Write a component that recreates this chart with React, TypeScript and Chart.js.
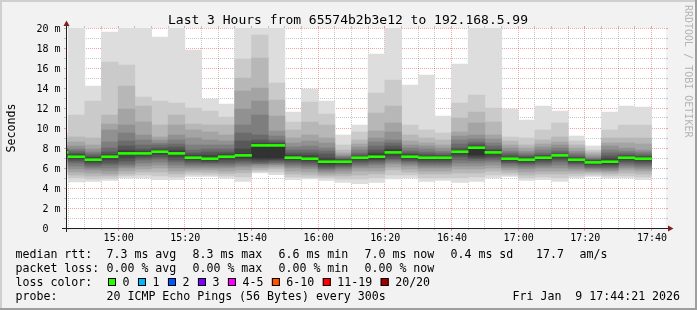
import React, { useEffect, useRef } from "react";
import { Chart, registerables } from "chart.js";

Chart.register(...registerables);

// 5-minute slots (start time of each consolidated row)
const slotStart = [
  "14:40", "14:45", "14:50", "14:55", "15:00", "15:05", "15:10", "15:15", "15:20",
  "15:25", "15:30", "15:35", "15:40", "15:45", "15:50", "15:55", "16:00", "16:05",
  "16:10", "16:15", "16:20", "16:25", "16:30", "16:35", "16:40", "16:45", "16:50",
  "16:55", "17:00", "17:05", "17:10", "17:15", "17:20", "17:25", "17:30", "17:35",
];

// median RTT (ms) per slot
const medianRtt = [
  7.56, 7.13, 6.83, 7.13, 7.46, 7.46, 7.63, 7.46, 7.03, 6.93, 7.13, 7.26, 8.26, 8.26,
  7.03, 6.93, 6.63, 6.63, 7.03, 7.13, 7.56, 7.13, 7.03, 7.03, 7.63, 8.03, 7.56, 6.93,
  6.83, 7.03, 7.26, 6.83, 6.56, 6.63, 7.03, 6.93,
];

// sorted ping RTTs (ms) per slot: ping01 = fastest ... ping20 = slowest
const ping20 = [9.5, 22, 14.2, 19.6, 22, 22, 19.1, 22, 17.8, 12.9, 12.4, 20.0, 22, 22, 11.6, 13.9, 12.7, 9.3, 10.3, 17.4, 22, 14.3, 15.3, 11.2, 16.4, 22, 22, 11.9, 10.8, 12.2, 11.7, 9.2, 8.2, 11.6, 12.2, 12.1];
const ping19 = [9.0, 11.3, 12.7, 16.6, 16.3, 13.1, 12.7, 12.5, 12.0, 11.7, 11.1, 16.9, 19.3, 14.5, 10.6, 12.6, 11.4, 8.3, 9.6, 13.5, 14.8, 10.3, 9.8, 9.5, 12.5, 13.3, 12.0, 9.1, 9.0, 9.8, 10.5, 8.7, 7.8, 9.8, 10.3, 10.3];
const ping18 = [8.6, 9.1, 9.0, 11.3, 14.2, 12.2, 10.3, 11.3, 10.4, 10.3, 10.3, 15.0, 17.0, 12.8, 9.8, 10.6, 10.3, 7.8, 8.8, 11.5, 12.2, 9.3, 9.0, 8.8, 11.0, 11.6, 10.6, 8.7, 8.3, 8.8, 9.1, 8.3, 7.6, 9.0, 9.0, 9.0];
const ping17 = [8.3, 8.6, 8.3, 10.4, 11.9, 10.6, 9.1, 10.3, 9.8, 9.6, 9.3, 13.7, 14.0, 11.2, 9.0, 9.3, 9.0, 7.5, 8.4, 9.7, 10.5, 8.7, 8.5, 8.3, 9.6, 10.5, 9.3, 8.3, 8.0, 8.4, 8.6, 8.0, 7.4, 8.5, 8.5, 8.4];
const ping16 = [8.1, 8.2, 7.9, 9.8, 10.3, 9.3, 8.8, 9.3, 9.0, 8.8, 8.7, 11.9, 12.7, 9.7, 8.5, 8.7, 8.5, 7.3, 8.1, 9.0, 9.6, 8.3, 8.2, 8.0, 9.2, 9.3, 8.9, 8.0, 7.7, 8.1, 8.3, 7.7, 7.2, 8.2, 8.0, 7.8];
const ping15 = [7.95, 7.9, 7.6, 8.6, 9.5, 8.8, 8.5, 8.8, 8.3, 8.3, 8.3, 10.3, 11.3, 9.2, 8.1, 8.2, 8.0, 7.15, 7.8, 8.6, 8.8, 8.0, 7.9, 7.7, 8.8, 8.9, 8.5, 7.7, 7.5, 7.8, 8.0, 7.5, 7.0, 7.8, 7.7, 7.6];
const ping14 = [7.85, 7.7, 7.4, 8.0, 8.7, 8.3, 8.3, 8.4, 7.8, 7.9, 7.9, 9.5, 9.3, 8.8, 7.8, 7.8, 7.7, 7.0, 7.5, 8.2, 8.5, 7.7, 7.6, 7.5, 8.4, 8.6, 8.2, 7.5, 7.3, 7.5, 7.7, 7.3, 6.9, 7.5, 7.5, 7.4];
const ping13 = [7.75, 7.5, 7.2, 7.6, 8.2, 7.9, 8.0, 8.1, 7.5, 7.6, 7.6, 8.7, 8.8, 8.6, 7.5, 7.5, 7.4, 6.9, 7.3, 7.8, 8.2, 7.5, 7.4, 7.3, 8.0, 8.4, 7.9, 7.3, 7.15, 7.3, 7.5, 7.1, 6.8, 7.2, 7.3, 7.2];
const ping12 = [7.65, 7.35, 7.05, 7.35, 7.8, 7.7, 7.8, 7.8, 7.3, 7.3, 7.4, 7.9, 8.5, 8.45, 7.3, 7.25, 7.0, 6.8, 7.15, 7.5, 7.9, 7.35, 7.2, 7.2, 7.8, 8.2, 7.75, 7.1, 7.0, 7.2, 7.35, 7.0, 6.7, 6.95, 7.2, 7.1];
const ping11 = [7.6, 7.25, 6.9, 7.2, 7.6, 7.55, 7.7, 7.6, 7.1, 7.05, 7.2, 7.4, 8.35, 8.35, 7.1, 7.05, 6.75, 6.7, 7.1, 7.3, 7.7, 7.2, 7.1, 7.1, 7.7, 8.1, 7.65, 7.0, 6.9, 7.1, 7.3, 6.9, 6.6, 6.75, 7.1, 7.0];
const ping10 = [7.5, 7.1, 6.75, 7.05, 7.35, 7.4, 7.55, 7.35, 6.95, 6.85, 7.05, 7.1, 7.0, 7.0, 6.95, 6.85, 6.5, 6.55, 6.95, 7.0, 7.45, 7.05, 6.95, 6.95, 7.55, 7.3, 7.45, 6.85, 6.75, 6.95, 7.2, 6.75, 6.5, 6.5, 6.95, 6.85];
const ping09 = [7.4, 6.9, 6.6, 6.8, 7.0, 7.2, 7.35, 7.1, 6.8, 6.7, 6.85, 6.9, 6.8, 6.85, 6.8, 6.7, 6.3, 6.4, 6.8, 6.85, 7.2, 6.9, 6.8, 6.8, 7.3, 7.1, 7.2, 6.7, 6.6, 6.8, 7.0, 6.6, 6.35, 6.35, 6.8, 6.7];
const ping08 = [7.3, 6.7, 6.4, 6.5, 6.7, 7.0, 7.1, 6.8, 6.6, 6.55, 6.6, 6.7, 6.6, 6.7, 6.6, 6.5, 6.1, 6.25, 6.6, 6.7, 6.95, 6.75, 6.6, 6.6, 7.1, 6.95, 7.0, 6.55, 6.45, 6.6, 6.8, 6.45, 6.2, 6.2, 6.6, 6.5];
const ping07 = [7.2, 6.5, 6.2, 6.3, 6.4, 6.8, 6.9, 6.6, 6.4, 6.4, 6.4, 6.5, 6.45, 6.55, 6.4, 6.3, 5.95, 6.1, 6.4, 6.5, 6.8, 6.6, 6.4, 6.4, 6.8, 6.75, 6.8, 6.4, 6.3, 6.4, 6.6, 6.3, 6.05, 6.05, 6.4, 6.3];
const ping06 = [7.05, 6.2, 6.0, 6.0, 6.2, 6.5, 6.6, 6.3, 6.2, 6.2, 6.2, 6.3, 6.4, 6.4, 6.2, 6.1, 5.8, 5.95, 6.2, 6.3, 6.6, 6.4, 6.2, 6.2, 6.5, 6.5, 6.6, 6.2, 6.1, 6.2, 6.3, 6.1, 5.95, 5.9, 6.2, 6.1];
const ping05 = [6.9, 5.9, 5.8, 5.7, 6.0, 6.2, 6.3, 6.0, 6.0, 6.0, 6.0, 6.1, 6.2, 6.3, 6.0, 5.9, 5.6, 5.7, 6.0, 6.0, 6.4, 6.2, 6.0, 6.0, 6.2, 6.2, 6.3, 6.0, 5.9, 6.0, 6.0, 5.9, 5.8, 5.75, 6.0, 5.9];
const ping04 = [6.7, 5.6, 5.5, 5.4, 5.7, 5.9, 6.0, 5.7, 5.8, 5.8, 5.7, 5.8, 6.0, 6.1, 5.7, 5.6, 5.4, 5.45, 5.7, 5.7, 6.1, 5.9, 5.7, 5.7, 5.9, 5.9, 6.0, 5.8, 5.6, 5.7, 5.7, 5.7, 5.65, 5.6, 5.8, 5.7];
const ping03 = [6.4, 5.3, 5.2, 5.2, 5.4, 5.6, 5.6, 5.4, 5.6, 5.55, 5.45, 5.5, 5.8, 5.9, 5.4, 5.3, 5.2, 5.2, 5.3, 5.4, 5.8, 5.6, 5.4, 5.4, 5.5, 5.5, 5.7, 5.55, 5.3, 5.4, 5.4, 5.45, 5.5, 5.4, 5.5, 5.4];
const ping02 = [6.0, 5.0, 4.9, 4.95, 5.2, 5.3, 5.2, 5.1, 5.35, 5.3, 5.2, 5.1, 5.65, 5.6, 5.1, 5.05, 5.0, 4.9, 4.9, 5.0, 5.3, 5.3, 5.0, 5.0, 5.0, 5.1, 5.3, 5.3, 5.0, 5.1, 5.0, 5.2, 5.3, 5.2, 5.2, 5.1];
const ping01 = [5.4, 4.6, 4.65, 4.75, 5.0, 5.0, 4.83, 4.83, 5.16, 5.16, 4.99, 4.66, 5.5, 5.33, 4.83, 4.9, 4.76, 4.56, 4.43, 4.56, 4.9, 5.0, 4.66, 4.76, 4.56, 4.66, 5.0, 5.16, 4.76, 4.83, 4.66, 5.0, 5.16, 5.0, 5.0, 4.83];

// axis labels
const xTickLabels = ["15:00", "15:20", "15:40", "16:00", "16:20", "16:40", "17:00", "17:20", "17:40"];
const yTickLabels = ["0  ", "2 m", "4 m", "6 m", "8 m", "10 m", "12 m", "14 m", "16 m", "18 m", "20 m"];
const yLabelValues = [0, 2, 4, 6, 8, 10, 12, 14, 16, 18, 20];

// texts
const titleText = "Last 3 Hours from 65574b2b3e12 to 192.168.5.99";
const yAxisTitle = "Seconds";
const watermark = "RRDTOOL / TOBI OETIKER";
const rttStats = ["7.3 ms avg", "8.3 ms max", "6.6 ms min", "7.0 ms now", "0.4 ms sd", "17.7", "am/s"];
const lossStats = ["0.00 % avg", "0.00 % max", "0.00 % min", "0.00 % now"];
const lossLabels = ["0", "1", "2", "3", "4-5", "6-10", "11-19", "20/20"];
const lossColors = ["#26ff00", "#00b8ff", "#0059ff", "#7e00ff", "#ff00ff", "#ff5500", "#ff0000", "#a00000"];
const probeText = "20 ICMP Echo Pings (56 Bytes) every 300s";
const stampText = "Fri Jan  9 17:44:21 2026";

// time window: 14:44:21 .. 17:44:21 (minutes of day)
const START_MIN = 14 * 60 + 44 + 21 / 60;
const END_MIN = START_MIN + 180;
const SLOT_MIN = 5;

const toMin = (t: string) => {
  const [h, m] = t.split(":").map(Number);
  return h * 60 + m;
};

const gridMinutes: number[] = [];
for (let v = Math.ceil(START_MIN / 5) * 5; v <= END_MIN; v += 5) gridMinutes.push(v);

const MONO = '"DejaVu Sans Mono", monospace';
const MINOR = "rgba(143,143,143,0.5)";
const MAJOR = "rgba(222,79,79,0.5)";

const ranks = [ping01, ping02, ping03, ping04, ping05, ping06, ping07, ping08, ping09, ping10,
  ping11, ping12, ping13, ping14, ping15, ping16, ping17, ping18, ping19, ping20];

const align = (p: number) => Math.round(p - 0.5) + 0.5;

const framePlugin = {
  id: "rrdFrame",
  beforeDraw(chart: any) {
    const { ctx, width, height, chartArea: a } = chart;
    ctx.save();
    ctx.fillStyle = "#f2f2f2";
    ctx.fillRect(0, 0, width, height);
    ctx.fillStyle = "#cfcfcf";
    ctx.fillRect(0, 0, width, 2);
    ctx.fillRect(0, 0, 2, height);
    ctx.fillStyle = "#9e9e9e";
    ctx.fillRect(0, height - 2, width, 2);
    ctx.fillRect(width - 2, 0, 2, height);
    ctx.fillStyle = "#ffffff";
    ctx.fillRect(a.left, a.top, a.right - a.left, a.bottom - a.top);
    ctx.restore();
  },
  afterDraw(chart: any) {
    const { ctx, chartArea: a } = chart;
    const xs = chart.scales.x;
    const ys = chart.scales.y;
    ctx.save();
    ctx.lineWidth = 1;
    // tick stubs outside the plot
    for (const v of gridMinutes) {
      const px = align(xs.getPixelForValue(v));
      const major = v % 20 === 0;
      ctx.strokeStyle = major ? MAJOR : MINOR;
      ctx.beginPath();
      ctx.moveTo(px, a.top - 2);
      ctx.lineTo(px, a.top);
      ctx.moveTo(px, a.bottom);
      ctx.lineTo(px, a.bottom + (major ? 3 : 2));
      ctx.stroke();
    }
    for (let v = 0; v <= 20; v++) {
      const py = align(ys.getPixelForValue(v));
      ctx.strokeStyle = v % 2 === 0 ? MAJOR : MINOR;
      ctx.beginPath();
      ctx.moveTo(a.left - 2, py);
      ctx.lineTo(a.left, py);
      ctx.moveTo(a.right, py);
      ctx.lineTo(a.right + 2, py);
      ctx.stroke();
    }
    // axes
    ctx.strokeStyle = "#1f1f1f";
    ctx.beginPath();
    ctx.moveTo(a.left - 4, a.bottom + 0.5);
    ctx.lineTo(a.right + 4, a.bottom + 0.5);
    ctx.moveTo(a.left + 0.5, a.bottom + 4);
    ctx.lineTo(a.left + 0.5, a.top - 4);
    ctx.stroke();
    // arrows
    ctx.fillStyle = "#7f1f1f";
    ctx.beginPath();
    ctx.moveTo(a.left + 0.5 - 3, a.top - 2);
    ctx.lineTo(a.left + 0.5 + 3, a.top - 2);
    ctx.lineTo(a.left + 0.5, a.top - 7.5);
    ctx.closePath();
    ctx.fill();
    ctx.beginPath();
    ctx.moveTo(a.right + 2, a.bottom + 0.5 - 3);
    ctx.lineTo(a.right + 2, a.bottom + 0.5 + 3);
    ctx.lineTo(a.right + 7.5, a.bottom + 0.5);
    ctx.closePath();
    ctx.fill();

    ctx.fillStyle = "#000000";
    // y tick labels
    ctx.font = `10px ${MONO}`;
    ctx.textAlign = "right";
    ctx.textBaseline = "alphabetic";
    yLabelValues.forEach((v, i) => {
      ctx.fillText(yTickLabels[i], a.left - 5.5, ys.getPixelForValue(v) + 3.5);
    });
    // x tick labels
    ctx.textAlign = "center";
    xTickLabels.forEach((t) => {
      ctx.fillText(t, xs.getPixelForValue(toMin(t)) + 0.5, 241);
    });
    // title
    ctx.font = `13px ${MONO}`;
    ctx.fillText(titleText, 348, 24);
    // y axis title
    ctx.save();
    ctx.font = `11.6px ${MONO}`;
    ctx.translate(15, (a.top + a.bottom) / 2);
    ctx.rotate(-Math.PI / 2);
    ctx.textAlign = "center";
    ctx.fillText(yAxisTitle, 0, 0);
    ctx.restore();
    // watermark
    ctx.save();
    ctx.font = `10px ${MONO}`;
    ctx.fillStyle = "#b4b4b4";
    ctx.translate(685, 5);
    ctx.rotate(Math.PI / 2);
    ctx.textAlign = "left";
    ctx.fillText(watermark, 0, 0);
    ctx.restore();

    // legend block
    ctx.font = `11.6px ${MONO}`;
    ctx.textAlign = "left";
    const cols = [106.5, 192.5, 278.5, 364.5, 450.5, 536, 579.5];
    const rows = [258, 272, 286, 300];
    ctx.fillText("median rtt:", 15.5, rows[0]);
    rttStats.forEach((s, i) => ctx.fillText(s, cols[i], rows[0]));
    ctx.fillText("packet loss:", 15.5, rows[1]);
    lossStats.forEach((s, i) => ctx.fillText(s, cols[i], rows[1]));
    ctx.fillText("loss color:", 15.5, rows[2]);
    let bx = 108;
    lossLabels.forEach((lab, i) => {
      ctx.fillStyle = lossColors[i];
      ctx.fillRect(bx, 278, 8, 8);
      ctx.strokeStyle = "#000000";
      ctx.strokeRect(bx + 0.5, 278.5, 7, 7);
      ctx.fillStyle = "#000000";
      ctx.fillText(lab, bx + 14.5, rows[2]);
      bx += 23 + ctx.measureText(lab).width;
    });
    ctx.fillText("probe:", 15.5, rows[3]);
    ctx.fillText(probeText, cols[0], rows[3]);
    ctx.fillText(stampText, 512.5, rows[3]);
    ctx.restore();
  },
};

export default function App() {
  const ref = useRef<HTMLCanvasElement>(null);

  useEffect(() => {
    const canvas = ref.current;
    if (!canvas) return;
    const centers = slotStart.map((t) => toMin(t) + SLOT_MIN / 2);
    const shades = [221, 202, 183, 164, 145, 126, 107, 88, 69, 50];
    const smoke = shades.map((g, k) => ({
      type: "bar" as const,
      label: `smoke ${k + 1}`,
      data: centers.map((x, i) => ({ x, y: [ranks[k][i], ranks[19 - k][i]] })),
      backgroundColor: `rgb(${g},${g},${g})`,
      order: 10 - k,
      clip: 0,
      grouped: false,
      barPercentage: 1,
      categoryPercentage: 1,
      borderWidth: 0,
    }));
    const median = {
      type: "bar" as const,
      label: "median rtt",
      data: centers.map((x, i) => ({ x, y: [medianRtt[i] - 0.1, medianRtt[i] + 0.1] })),
      backgroundColor: lossColors[0],
      order: 0,
      clip: 0,
      grouped: false,
      barPercentage: 1,
      categoryPercentage: 1,
      borderWidth: 0,
    };

    const chart = new Chart(canvas, {
      type: "bar",
      data: { datasets: [median, ...smoke] as any },
      options: {
        responsive: false,
        animation: false,
        devicePixelRatio: 1,
        events: [],
        layout: { padding: { left: 66, right: 31, top: 28, bottom: 82 } },
        plugins: {
          legend: { display: false },
          tooltip: { enabled: false },
          title: { display: false },
        },
        scales: {
          x: {
            type: "linear",
            min: START_MIN,
            max: END_MIN,
            offset: false,
            afterBuildTicks: (s: any) => {
              s.ticks = gridMinutes.map((v) => ({ value: v }));
            },
            ticks: { display: false },
            grid: {
              offset: false,
              drawTicks: false,
              lineWidth: 1,
              color: (c: any) => (c.tick && c.tick.value % 20 === 0 ? MAJOR : MINOR),
            },
            border: { display: false, dash: [1, 1] },
            z: 1,
          },
          y: {
            type: "linear",
            min: 0,
            max: 20,
            ticks: { display: false, stepSize: 1 },
            grid: {
              drawTicks: false,
              lineWidth: 1,
              color: (c: any) => (c.tick && c.tick.value % 2 === 0 ? MAJOR : MINOR),
            },
            border: { display: false, dash: [1, 1] },
            z: 1,
          },
        },
      } as any,
      plugins: [framePlugin],
    });
    return () => chart.destroy();
  }, []);

  return (
    <div style={{ position: "absolute", left: 0, top: 0, width: 697, height: 310 }}>
      <canvas ref={ref} width={697} height={310} style={{ display: "block", width: 697, height: 310 }} />
    </div>
  );
}
